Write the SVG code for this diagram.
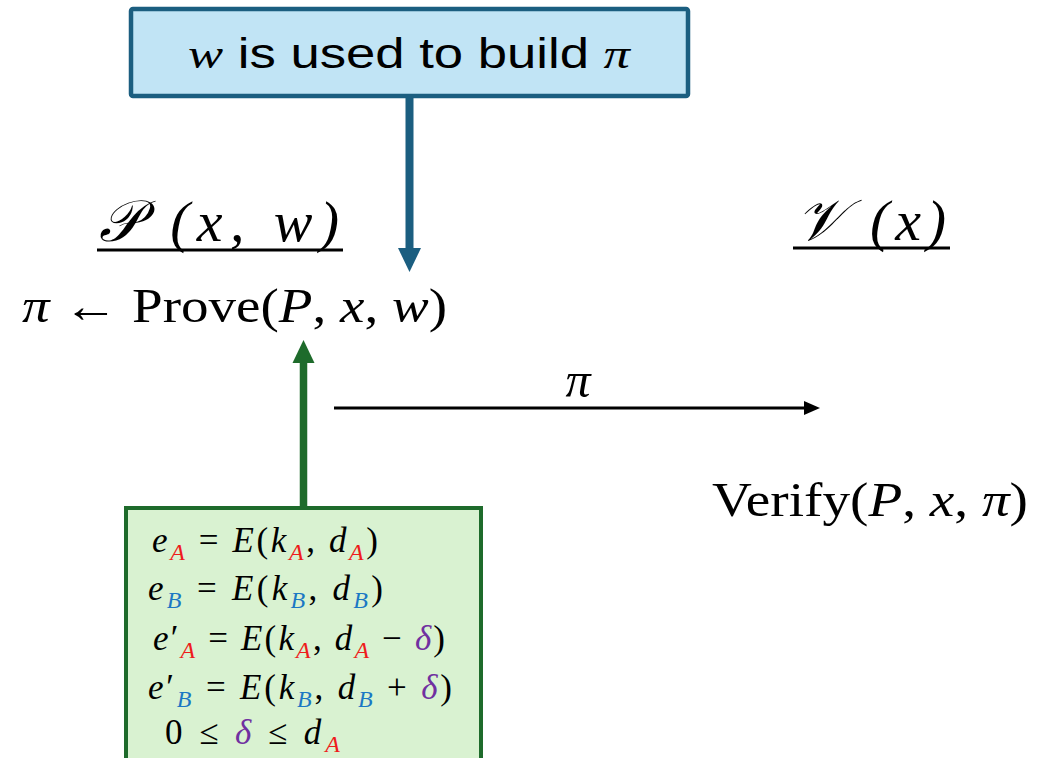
<svg xmlns="http://www.w3.org/2000/svg" width="1048" height="758" viewBox="0 0 1048 758">
  <style>
    .m { font-family: "Liberation Serif", "DejaVu Serif", serif; fill: #000; }
    .i { font-style: italic; }
    .s { font-family: "Liberation Sans", "Noto Sans", sans-serif; }
    .r { fill: #ee1c1c; font-style: italic; }
    .b { fill: #1b78c4; font-style: italic; }
    .p { fill: #7030a0; font-style: italic; }
  </style>
  <rect width="1048" height="758" fill="#ffffff"/>

  <!-- witness note -->
  <g id="note">
    <rect x="131" y="9" width="557" height="87" rx="2" fill="#c1e4f5" stroke="#1b5e80" stroke-width="4.5"/>
    <text x="188" y="68" font-size="43" class="s" textLength="442" lengthAdjust="spacingAndGlyphs"><tspan class="m i">w</tspan> is used to build <tspan class="m i">π</tspan></text>
  </g>

  <!-- prover -->
  <g id="prover">
    <text x="99" y="241" font-size="58" class="m i" textLength="240" lengthAdjust="spacing">𝒫 (x, w)</text>
    <line x1="97" y1="250" x2="343" y2="250" stroke="#000" stroke-width="3"/>
    <text x="22" y="322" font-size="48" class="m" textLength="425" lengthAdjust="spacingAndGlyphs"><tspan class="i">π</tspan> ← Prove(<tspan class="i">P</tspan>, <tspan class="i">x</tspan>, <tspan class="i">w</tspan>)</text>
  </g>

  <!-- verifier -->
  <g id="verifier">
    <text x="796" y="240" font-size="58" class="m i" textLength="150" lengthAdjust="spacing">𝒱 (x)</text>
    <line x1="793" y1="248" x2="950" y2="248" stroke="#000" stroke-width="3"/>
    <text x="712" y="516" font-size="48" class="m" textLength="316" lengthAdjust="spacingAndGlyphs">Verify(<tspan class="i">P</tspan>, <tspan class="i">x</tspan>, <tspan class="i">π</tspan>)</text>
  </g>

  <!-- private inputs -->
  <g id="statement">
    <rect x="126" y="508" width="355" height="280" fill="#d9f2d1" stroke="#1e6b2b" stroke-width="4"/>
    <g class="m" font-size="35">
      <text x="152" y="552" textLength="226" lengthAdjust="spacing"><tspan class="i">e</tspan><tspan class="r" font-size="24" dy="8">A</tspan><tspan dy="-8"> = </tspan><tspan class="i">E</tspan>(<tspan class="i">k</tspan><tspan class="r" font-size="24" dy="8">A</tspan><tspan dy="-8">, </tspan><tspan class="i">d</tspan><tspan class="r" font-size="24" dy="8">A</tspan><tspan dy="-8">)</tspan></text>
      <text x="148" y="600" textLength="235" lengthAdjust="spacing"><tspan class="i">e</tspan><tspan class="b" font-size="24" dy="8">B</tspan><tspan dy="-8"> = </tspan><tspan class="i">E</tspan>(<tspan class="i">k</tspan><tspan class="b" font-size="24" dy="8">B</tspan><tspan dy="-8">, </tspan><tspan class="i">d</tspan><tspan class="b" font-size="24" dy="8">B</tspan><tspan dy="-8">)</tspan></text>
      <text x="153" y="650" textLength="292" lengthAdjust="spacing"><tspan class="i">e</tspan><tspan>′</tspan><tspan class="r" font-size="24" dy="8">A</tspan><tspan dy="-8"> = </tspan><tspan class="i">E</tspan>(<tspan class="i">k</tspan><tspan class="r" font-size="24" dy="8">A</tspan><tspan dy="-8">, </tspan><tspan class="i">d</tspan><tspan class="r" font-size="24" dy="8">A</tspan><tspan dy="-8"> − </tspan><tspan class="p">δ</tspan>)</text>
      <text x="148" y="699" textLength="304" lengthAdjust="spacing"><tspan class="i">e</tspan><tspan>′</tspan><tspan class="b" font-size="24" dy="8">B</tspan><tspan dy="-8"> = </tspan><tspan class="i">E</tspan>(<tspan class="i">k</tspan><tspan class="b" font-size="24" dy="8">B</tspan><tspan dy="-8">, </tspan><tspan class="i">d</tspan><tspan class="b" font-size="24" dy="8">B</tspan><tspan dy="-8"> + </tspan><tspan class="p">δ</tspan>)</text>
      <text x="165" y="744" textLength="175" lengthAdjust="spacing">0 ≤ <tspan class="p">δ</tspan> ≤ <tspan class="i">d</tspan><tspan class="r" font-size="24" dy="8">A</tspan></text>
    </g>
  </g>

  <!-- connectors -->
  <g id="connectors">
    <line x1="409.5" y1="96" x2="409.5" y2="250" stroke="#1b5e80" stroke-width="8"/>
    <polygon points="398,248 421,248 409.5,272" fill="#1b5e80"/>
    <line x1="303.5" y1="506" x2="303.5" y2="361" stroke="#1e6b2b" stroke-width="7.5"/>
    <polygon points="292.5,363 314.5,363 303.5,340" fill="#1e6b2b"/>
    <line x1="334" y1="408" x2="806" y2="408" stroke="#000" stroke-width="3"/>
    <polygon points="804,401 820,408 804,415" fill="#000"/>
    <text x="578" y="397" text-anchor="middle" font-size="50" class="m i">π</text>
  </g>
</svg>
